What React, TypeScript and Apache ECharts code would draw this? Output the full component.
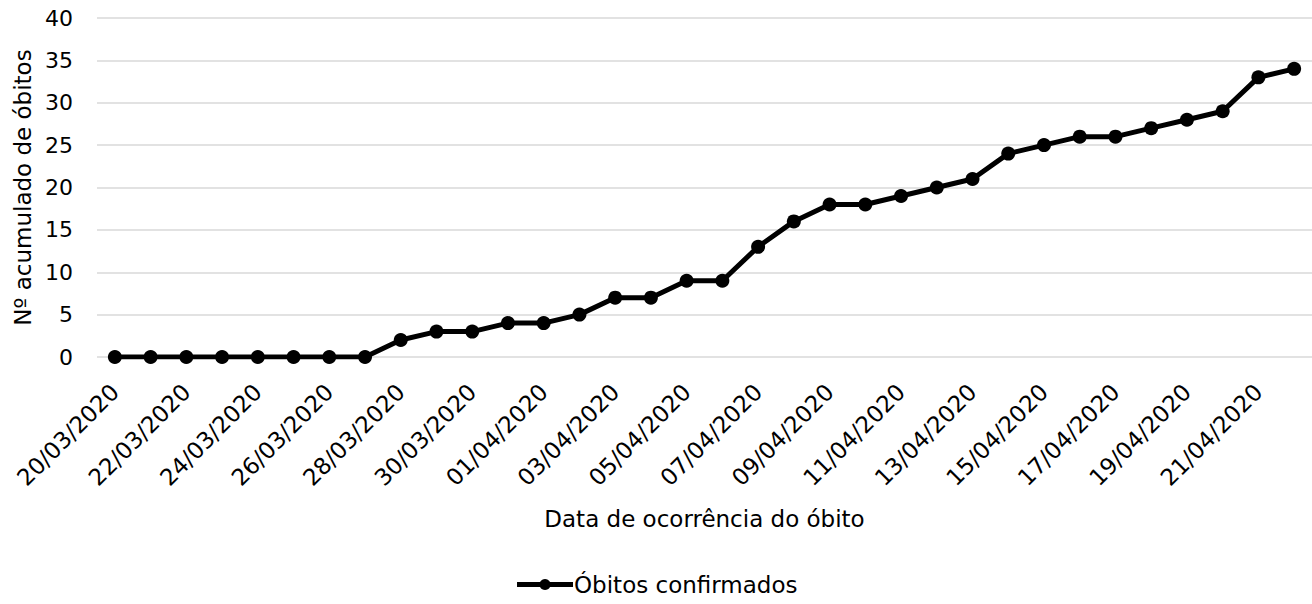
import React, { useEffect, useRef } from "react";
import * as echarts from "echarts";

const categories = [
  "20/03/2020","21/03/2020","22/03/2020","23/03/2020","24/03/2020","25/03/2020","26/03/2020","27/03/2020",
  "28/03/2020","29/03/2020","30/03/2020","31/03/2020","01/04/2020","02/04/2020","03/04/2020","04/04/2020",
  "05/04/2020","06/04/2020","07/04/2020","08/04/2020","09/04/2020","10/04/2020","11/04/2020","12/04/2020",
  "13/04/2020","14/04/2020","15/04/2020","16/04/2020","17/04/2020","18/04/2020","19/04/2020","20/04/2020",
  "21/04/2020","22/04/2020"
];
const obitos = [0,0,0,0,0,0,0,0,2,3,3,4,4,5,7,7,9,9,13,16,18,18,19,20,21,24,25,26,26,27,28,29,33,34];

const FONT = "'DejaVu Sans', sans-serif";

export default function App() {
  const ref = useRef<HTMLDivElement>(null);
  useEffect(() => {
    if (!ref.current) return;
    const chart = echarts.init(ref.current, undefined, { renderer: "svg" });
    chart.setOption({
      animation: false,
      textStyle: { fontFamily: FONT },
      grid: { left: 97, right: 0, top: 18, bottom: 247, containLabel: false, outerBoundsMode: "none" },
      legend: {
        bottom: 3,
        left: "center",
        itemWidth: 56,
        itemHeight: 14,
        itemGap: 0,
        lineStyle: { width: 5, color: "#000" },
        textStyle: { fontSize: 23, color: "#000", fontFamily: FONT, padding: [0, 0, 0, -4] },
        data: ["Óbitos confirmados"],
      },
      xAxis: {
        type: "category",
        data: categories,
        boundaryGap: true,
        name: "Data de ocorrência do óbito",
        nameLocation: "middle",
        nameGap: 150,
        nameMoveOverlap: false,
        nameTextStyle: { fontSize: 23, color: "#000", fontFamily: FONT },
        axisLine: { show: false },
        axisTick: { show: false },
        axisLabel: { interval: 1, rotate: 45, fontSize: 23, color: "#000", margin: 31, fontFamily: FONT },
      },
      yAxis: {
        type: "value",
        min: 0,
        max: 40,
        interval: 5,
        name: "Nº acumulado de óbitos",
        nameLocation: "middle",
        nameGap: 63,
        nameMoveOverlap: false,
        nameTextStyle: { fontSize: 23, color: "#000", fontFamily: FONT },
        axisLine: { show: false },
        axisTick: { show: false },
        axisLabel: { fontSize: 22, color: "#000", margin: 24, fontFamily: FONT },
        splitLine: { lineStyle: { color: "#d9d9d9", width: 1.5 } },
      },
      series: [
        {
          name: "Óbitos confirmados",
          type: "line",
          data: obitos,
          symbol: "circle",
          symbolSize: 14,
          lineStyle: { color: "#000", width: 5 },
          itemStyle: { color: "#000" },
        },
      ],
    });
    return () => chart.dispose();
  }, []);
  return <div ref={ref} style={{ position: "absolute", left: 0, top: 0, width: 1312, height: 604 }} />;
}
